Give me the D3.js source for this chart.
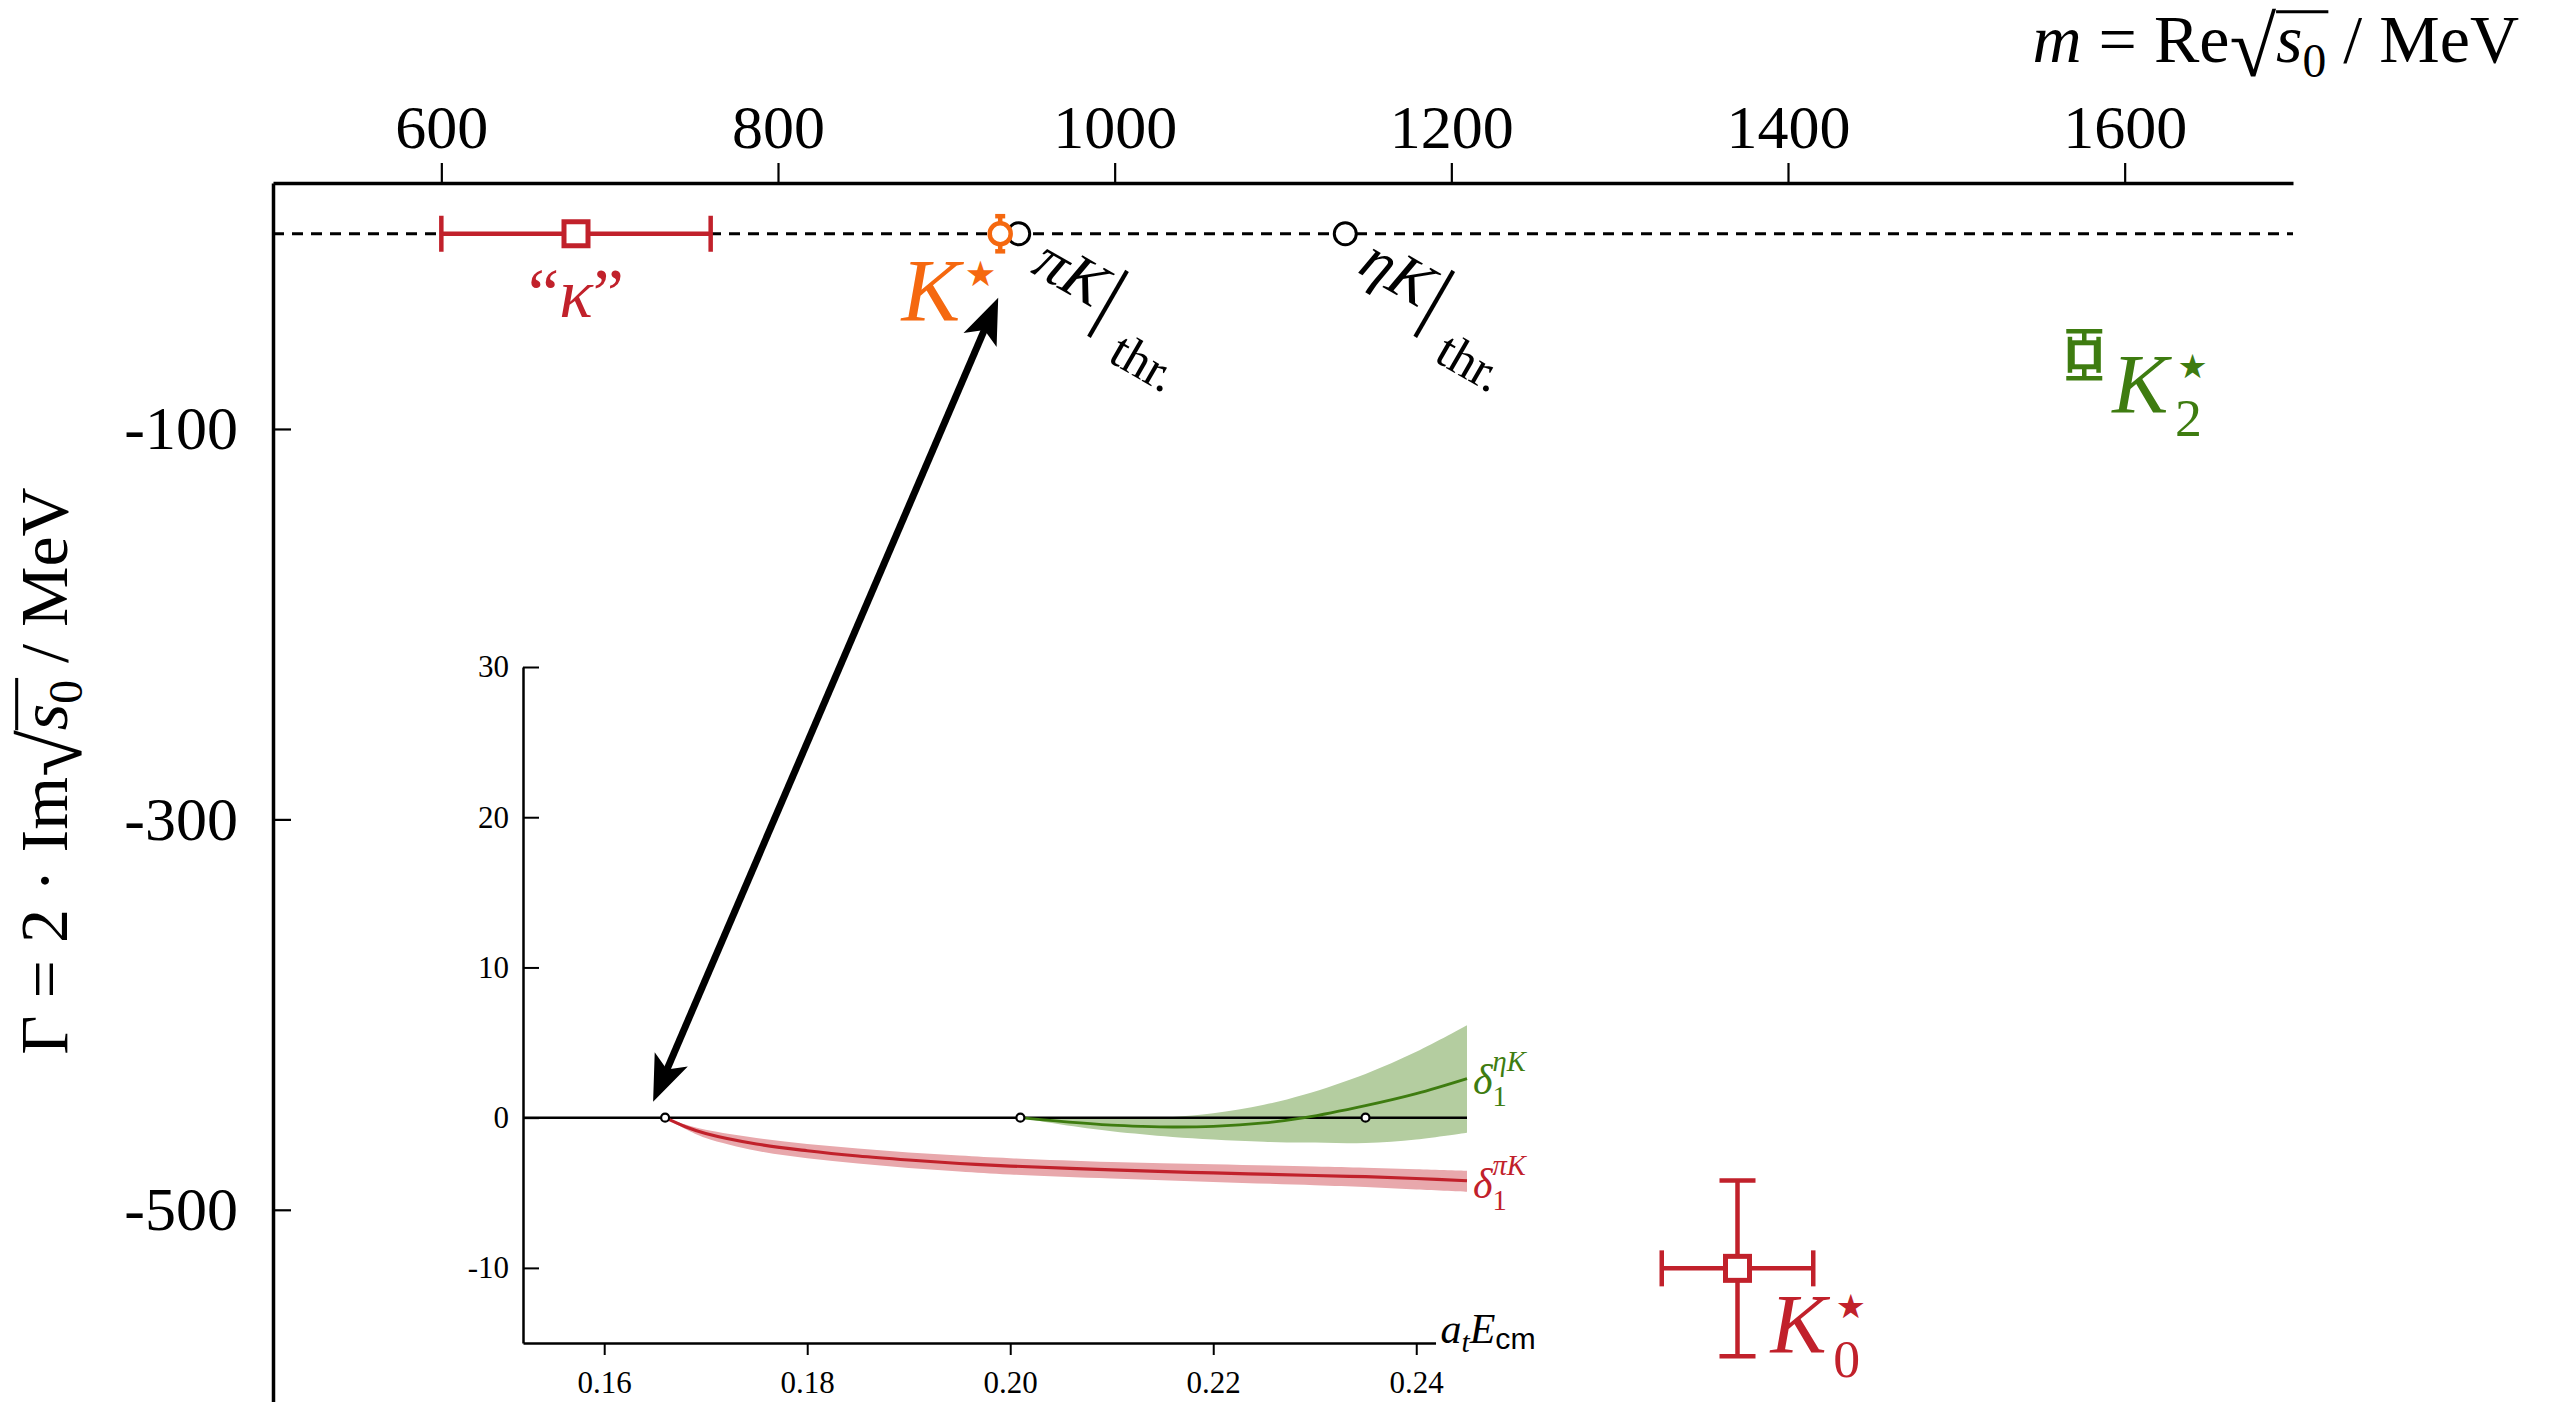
<!DOCTYPE html>
<html>
<head>
<meta charset="utf-8">
<script src="https://cdn.jsdelivr.net/npm/d3@7"></script>
<style>
  body { margin: 0; background: #fff; }
</style>
</head>
<body>
<script>
const W = 2553, H = 1402;
const SERIF = "Liberation Serif, serif";
const RED = "#c1212b", ORANGE = "#f5680f", GREEN = "#3e7c10";
const RED_BAND = "#e8a8ac", GREEN_BAND = "#b4cda0";

// main plot data
const topTicks = [600, 800, 1000, 1200, 1400, 1600];
const leftTicks = [-100, -300, -500];
const poleMass = [680, 932, 1370, 1576];
const poleMassErr = [80, 0, 45, 8.5];
const poleWidth = [0, 0, -530, -62];
const poleWidthErr = [0, 9, 45, 12];
const poleColor = [RED, ORANGE, RED, GREEN];
const poleShape = ["square", "circle", "square", "square"];
const poleCap = [18, 5, 18, 18];
const thresholdNames = ["πK", "ηK"];
const thresholdMass = [943, 1137];

// inset data (phase shifts vs a_t E_cm)
const insetXTicks = [0.16, 0.18, 0.20, 0.22, 0.24];
const insetYTicks = [-10, 0, 10, 20, 30];
const insetThresholds = [0.166, 0.201, 0.235];
const piK_E   = [0.166, 0.168, 0.170, 0.175, 0.180, 0.185, 0.190, 0.195, 0.200, 0.210, 0.220, 0.230, 0.235, 0.240, 0.245];
const piK_mid = [0, -0.6, -1.05, -1.75, -2.2, -2.55, -2.82, -3.05, -3.22, -3.48, -3.68, -3.85, -3.93, -4.05, -4.2];
const piK_lo  = [0, -0.75, -1.35, -2.2, -2.7, -3.05, -3.35, -3.58, -3.78, -4.05, -4.28, -4.5, -4.62, -4.78, -4.93];
const piK_hi  = [0, -0.45, -0.8, -1.35, -1.75, -2.05, -2.32, -2.52, -2.7, -2.95, -3.1, -3.25, -3.33, -3.43, -3.53];
const etaK_E   = [0.201, 0.205, 0.210, 0.213, 0.216, 0.220, 0.225, 0.229, 0.235, 0.240, 0.245];
const etaK_mid = [0, -0.25, -0.5, -0.58, -0.62, -0.58, -0.35, 0, 0.8, 1.6, 2.6];
const etaK_lo  = [0, -0.45, -0.9, -1.1, -1.28, -1.45, -1.6, -1.66, -1.68, -1.45, -1.0];
const etaK_hi  = [0, 0, 0, 0, 0.05, 0.29, 0.86, 1.54, 2.91, 4.38, 6.15];

const svg = d3.select("body").append("svg")
    .attr("width", W).attr("height", H)
    .style("background", "#fff");

// one <text> made of tspans: italics, sub/superscripts, stacked scripts, overlines
function mathText(parent, parts, size, color) {
    const g = parent.append("g");
    const text = g.append("text")
        .attr("fill", color).attr("font-family", SERIF).attr("font-size", size)
        .style("white-space", "pre");
    let x = 0, pen = 0, curDy = 0, pending = 0, overX = 0;
    parts.forEach(p => {
        const ts = text.append("tspan")
            .attr("font-size", size * (p.scale || 1))
            .attr("font-family", p.family || SERIF)
            .attr("font-style", p.italic ? "italic" : "normal")
            .text(p.t);
        const w = ts.node().getComputedTextLength();
        const off = (p.dx || 0) * size;
        const start = x + off;
        const dyTarget = (p.dy || 0) * size;
        ts.attr("dx", start - pen).attr("dy", dyTarget - curDy);
        pen = start + w;
        curDy = dyTarget;
        if (p.overStart) overX = x;
        if (p.overEnd) {
            g.append("line")
                .attr("x1", overX).attr("x2", start + w + 2)
                .attr("y1", p.overEnd * size).attr("y2", p.overEnd * size)
                .attr("stroke", color).attr("stroke-width", size * 0.045);
        }
        if (p.stack) {
            pending = Math.max(pending, off + w);
        } else {
            x += Math.max(off + w, pending) + (p.kern || 0) * size;
            pending = 0;
        }
    });
    return { g: g, width: x };
}

const x = d3.scaleLinear().domain([500, 1700]).range([273, 2293]);
const y = d3.scaleLinear().domain([-600, 26]).range([1405, 183]);

// axes
const topAxis = svg.append("g")
    .attr("transform", `translate(0,${y(26)})`)
    .call(d3.axisTop(x).tickValues(topTicks).tickSize(20).tickSizeOuter(0).tickPadding(15)
        .tickFormat(d => String(d)));
const leftAxis = svg.append("g")
    .attr("transform", `translate(${x(500)},0)`)
    .call(d3.axisLeft(y).tickValues(leftTicks).tickSize(-18).tickSizeOuter(0).tickPadding(35)
        .tickFormat(d => String(d)));
[topAxis, leftAxis].forEach(a => {
    a.attr("font-family", SERIF);
    a.select(".domain").attr("stroke-width", 3.5);
    a.selectAll(".tick line").attr("stroke-width", 2.2);
    a.selectAll(".tick text").attr("font-size", 62).attr("font-family", SERIF).attr("fill", "#000");
});

// axis titles
const sqrtParts = (before, after) => [
    ...before,
    { t: "√", scale: 1.25, dy: 0.2 },
    { t: "s", italic: true, overStart: true },
    { t: "0", scale: 0.7, dy: 0.22, overEnd: -0.74 },
    { t: after }
];
const topTitle = mathText(svg, sqrtParts([{ t: "m", italic: true }, { t: " = Re" }], " / MeV"), 68, "#000");
topTitle.g.attr("transform", `translate(${2519 - topTitle.width},62)`);
const leftTitle = mathText(svg, sqrtParts([{ t: "Γ = 2 · Im" }], " / MeV"), 68, "#000");
leftTitle.g.attr("transform", `translate(67,${771 + leftTitle.width / 2}) rotate(-90)`);

// real axis (Γ = 0)
svg.append("line")
    .attr("x1", x(500)).attr("x2", x(1700))
    .attr("y1", y(0)).attr("y2", y(0))
    .attr("stroke", "#000").attr("stroke-width", 3)
    .attr("stroke-dasharray", "11 8");

// thresholds
thresholdMass.forEach((m, i) => {
    svg.append("circle")
        .attr("cx", x(m)).attr("cy", y(0)).attr("r", 11)
        .attr("fill", "#fff").attr("stroke", "#000").attr("stroke-width", 3);
    const lab = mathText(svg, [
        { t: thresholdNames[i].charAt(0), italic: true },
        { t: thresholdNames[i].charAt(1), italic: true, kern: 0.05 },
        { t: "|", scale: 1.35, dy: 0.14, kern: 0.3 },
        { t: "thr.", scale: 0.82, dy: 0.62 }
    ], 62, "#000");
    lab.g.attr("transform", `translate(${x(m) + 11},${y(0) + 38}) rotate(30)`);
});

// poles with error bars
poleMass.forEach((m, i) => {
    const c = poleColor[i], cx = x(m), cy = y(poleWidth[i]);
    const g = svg.append("g").attr("stroke", c).attr("stroke-width", 4.5);
    if (poleMassErr[i] > 0) {
        const x0 = x(m - poleMassErr[i]), x1 = x(m + poleMassErr[i]);
        g.append("line").attr("x1", x0).attr("x2", x1).attr("y1", cy).attr("y2", cy);
        [x0, x1].forEach(xx => g.append("line").attr("x1", xx).attr("x2", xx)
            .attr("y1", cy - 18).attr("y2", cy + 18));
    }
    if (poleWidthErr[i] > 0) {
        const y0 = y(poleWidth[i] + poleWidthErr[i]), y1 = y(poleWidth[i] - poleWidthErr[i]);
        g.append("line").attr("x1", cx).attr("x2", cx).attr("y1", y0).attr("y2", y1);
        [y0, y1].forEach(yy => g.append("line").attr("y1", yy).attr("y2", yy)
            .attr("x1", cx - poleCap[i]).attr("x2", cx + poleCap[i]));
    }
    if (poleShape[i] === "square") {
        g.append("rect").attr("x", cx - 12).attr("y", cy - 12).attr("width", 24).attr("height", 24)
            .attr("fill", "#fff").attr("stroke-width", 5);
    } else {
        g.append("circle").attr("cx", cx).attr("cy", cy).attr("r", 10.5)
            .attr("fill", "#fff").attr("stroke-width", 4.5);
    }
});

// pole labels
const star = { t: "★", family: "DejaVu Sans, sans-serif", scale: 0.4, dy: -0.38, dx: 0.03 };
const upStar = Object.assign({}, star, { stack: true, dy: -0.42 });
const kappaLab = mathText(svg, [{ t: "“" }, { t: "κ", italic: true }, { t: "”" }], 70, RED);
kappaLab.g.attr("transform", `translate(${x(poleMass[0]) - kappaLab.width / 2},${y(0) + 83})`);
const kstarLab = mathText(svg, [{ t: "K", italic: true, kern: 0.02 }, star], 88, ORANGE);
kstarLab.g.attr("transform", `translate(${x(poleMass[1]) - 4 - kstarLab.width},${y(0) + 86})`);
const k0Lab = mathText(svg, [{ t: "K", italic: true, kern: 0.08 }, upStar,
    { t: "0", scale: 0.64, dy: 0.28 }], 84, RED);
k0Lab.g.attr("transform", `translate(${x(poleMass[2]) + 33},${y(poleWidth[2]) + 85})`);
const k2Lab = mathText(svg, [{ t: "K", italic: true, kern: 0.08 }, upStar,
    { t: "2", scale: 0.64, dy: 0.28 }], 84, GREEN);
k2Lab.g.attr("transform", `translate(${x(poleMass[3]) + 28},${y(poleWidth[3]) + 58})`);

// ---------------- inset ----------------
const ix = d3.scaleLinear().domain([0.152, 0.245]).range([523, 1467]);
const iy = d3.scaleLinear().domain([-15, 30]).range([1343, 667]);
const ixAxis = ix.copy().domain([0.152, 0.2419]).range([ix(0.152), ix(0.2419)]);

const inset = svg.append("g");
const smooth = d3.curveCatmullRom.alpha(0.5);
const band = (E, lo, hi) => d3.area().curve(smooth)
    .x((d, i) => ix(E[i])).y0((d, i) => iy(lo[i])).y1((d, i) => iy(hi[i]))(E);
const line = (E, v) => d3.line().curve(smooth)
    .x((d, i) => ix(E[i])).y((d, i) => iy(v[i]))(E);

inset.append("path").attr("d", band(etaK_E, etaK_lo, etaK_hi)).attr("fill", GREEN_BAND);
inset.append("path").attr("d", band(piK_E, piK_lo, piK_hi)).attr("fill", RED_BAND);

inset.append("line")
    .attr("x1", ix(0.152)).attr("x2", ix(0.245))
    .attr("y1", iy(0)).attr("y2", iy(0))
    .attr("stroke", "#000").attr("stroke-width", 2.5);

inset.append("path").attr("d", line(etaK_E, etaK_mid))
    .attr("fill", "none").attr("stroke", GREEN).attr("stroke-width", 2.8);
inset.append("path").attr("d", line(piK_E, piK_mid))
    .attr("fill", "none").attr("stroke", RED).attr("stroke-width", 3.2);

inset.selectAll("circle.thr").data(insetThresholds).join("circle")
    .attr("class", "thr")
    .attr("cx", d => ix(d)).attr("cy", iy(0)).attr("r", 4)
    .attr("fill", "#fff").attr("stroke", "#000").attr("stroke-width", 2.2);

const ibx = inset.append("g").attr("transform", `translate(0,${iy(-15)})`)
    .call(d3.axisBottom(ixAxis).tickValues(insetXTicks).tickSize(12).tickSizeOuter(0).tickPadding(16)
        .tickFormat(d3.format(".2f")));
const ily = inset.append("g").attr("transform", `translate(${ix(0.152)},0)`)
    .call(d3.axisLeft(iy).tickValues(insetYTicks).tickSize(-16).tickSizeOuter(0).tickPadding(14)
        .tickFormat(d => String(d)));
[ibx, ily].forEach(a => {
    a.select(".domain").attr("stroke-width", 2.5);
    a.selectAll(".tick line").attr("stroke-width", 2);
    a.selectAll(".tick text").attr("font-size", 31).attr("font-family", SERIF).attr("fill", "#000");
});

const eLab = mathText(inset, [
    { t: "a", italic: true },
    { t: "t", italic: true, scale: 0.7, dy: 0.22 },
    { t: "E", italic: true },
    { t: "cm", family: "Liberation Sans, sans-serif", scale: 0.72, dy: 0.15 }
], 42, "#000");
eLab.g.attr("transform", `translate(${ix(0.2419) + 5},${iy(-15)})`);

const deltaParts = (sup) => [
    { t: "δ", italic: true },
    { t: sup, italic: true, scale: 0.68, dy: -0.55, stack: true },
    { t: "1", scale: 0.68, dy: 0.3 }
];
const etaLab = mathText(inset, deltaParts("ηK"), 42, GREEN);
etaLab.g.attr("transform", `translate(${ix(0.245) + 6},${iy(etaK_mid[etaK_mid.length - 1]) + 15})`);
const piLab = mathText(inset, deltaParts("πK"), 42, RED);
piLab.g.attr("transform", `translate(${ix(0.245) + 6},${iy(piK_mid[piK_mid.length - 1]) + 17})`);

// double-headed arrow from K* pole to the inset
const defs = svg.append("defs");
defs.append("marker")
    .attr("id", "head")
    .attr("markerUnits", "userSpaceOnUse")
    .attr("markerWidth", 60).attr("markerHeight", 60)
    .attr("refX", 14).attr("refY", 0)
    .attr("viewBox", "-5 -30 60 60")
    .attr("orient", "auto-start-reverse")
    .append("path")
    .attr("d", "M46,0 L0,-18 L11,0 L0,18 Z")
    .attr("fill", "#000");

const A = [x(poleMass[1]) - 2, y(0) + 64];
const B = [ix(insetThresholds[0]) - 12, iy(0) - 16];
const len = Math.hypot(B[0] - A[0], B[1] - A[1]);
const ux = (B[0] - A[0]) / len, uy = (B[1] - A[1]) / len;
const cut = 32;
svg.append("line")
    .attr("x1", A[0] + ux * cut).attr("y1", A[1] + uy * cut)
    .attr("x2", B[0] - ux * cut).attr("y2", B[1] - uy * cut)
    .attr("stroke", "#000").attr("stroke-width", 7)
    .attr("marker-start", "url(#head)").attr("marker-end", "url(#head)");
</script>
</body>
</html>
